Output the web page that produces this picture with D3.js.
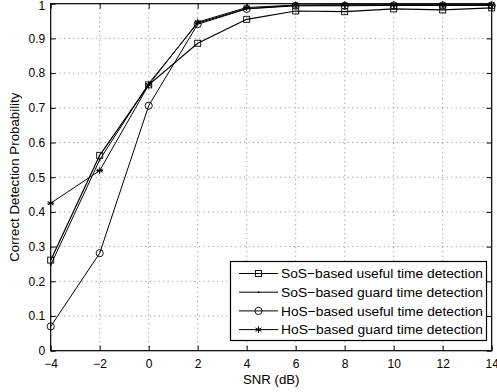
<!DOCTYPE html>
<html><head><meta charset="utf-8">
<script src="https://cdn.jsdelivr.net/npm/d3@7"></script>
<style>body{margin:0;background:#fff}svg{display:block}</style>
</head><body>
<svg id="c" width="497" height="392"></svg>
<script>
const snr = [-4,-2,0,2,4,6,8,10,12,14];
const sosUseful = [0.261,0.563,0.766,0.886,0.955,0.979,0.977,0.985,0.982,0.988];
const sosGuard  = [0.247,0.550,0.770,0.944,0.986,0.995,0.996,0.996,0.996,0.996];
const hosUseful = [0.070,0.281,0.706,0.941,0.985,0.994,0.994,0.995,0.995,0.995];
const hosGuard  = [0.425,0.519,0.766,0.947,0.989,0.996,0.997,0.997,0.997,0.997];
const xTicks = [-4,-2,0,2,4,6,8,10,12,14];
const yTicks = [0,0.1,0.2,0.3,0.4,0.5,0.6,0.7,0.8,0.9,1];
const legendLabels = ["SoS\u2212based useful time detection","SoS\u2212based guard time detection","HoS\u2212based useful time detection","HoS\u2212based guard time detection"];
const markers = ["square","dot","circle","star"];
const seriesData = [sosUseful,sosGuard,hosUseful,hosGuard];

const svg = d3.select("#c");
const L=50.7,R=491.7,T=3.7,B=350.7;
const x = d3.scaleLinear().domain([-4,14]).range([L,R]);
const y = d3.scaleLinear().domain([0,1]).range([B,T]);
const font = "Liberation Sans, Arial, Helvetica, sans-serif";

// grid
const g = svg.append("g");
g.selectAll(".gx").data(xTicks.slice(1,-1)).join("line")
 .attr("x1",d=>x(d)).attr("x2",d=>x(d)).attr("y1",T).attr("y2",B)
 .attr("stroke","#555").attr("stroke-width",0.7).attr("stroke-dasharray","1,3.5");
g.selectAll(".gy").data(yTicks.slice(1,-1)).join("line")
 .attr("y1",d=>y(d)).attr("y2",d=>y(d)).attr("x1",L).attr("x2",R)
 .attr("stroke","#555").attr("stroke-width",0.7).attr("stroke-dasharray","1,3.5");

// axes
const fmtY = d=> d===0?"0":(d===1?"1":d3.format(".1f")(d));
const fmtX = d=> d<0?"\u2212"+Math.abs(d):String(d);
const ax = svg.append("g").attr("transform",`translate(0,${B})`)
 .call(d3.axisBottom(x).tickValues(xTicks).tickSize(-5).tickPadding(8.5).tickFormat(fmtX));
const axT = svg.append("g").attr("transform",`translate(0,${T})`)
 .call(d3.axisTop(x).tickValues(xTicks).tickSize(-5).tickFormat(""));
const ay = svg.append("g").attr("transform",`translate(${L},0)`)
 .call(d3.axisLeft(y).tickValues(yTicks).tickSize(-5).tickPadding(5.5).tickFormat(fmtY));
const ayR = svg.append("g").attr("transform",`translate(${R},0)`)
 .call(d3.axisRight(y).tickValues(yTicks).tickSize(-5).tickFormat(""));
[ax,axT,ay,ayR].forEach(a=>{
  a.select(".domain").remove();
  a.selectAll("line").attr("stroke","#000").attr("stroke-width",1);
  a.selectAll("text").attr("font-family",font).attr("font-size",12).attr("fill","#000");
});
ay.selectAll(".tick").filter(d=>d===1).select("text").attr("dy","0.5em");
svg.append("rect").attr("x",L).attr("y",T).attr("width",R-L).attr("height",B-T)
 .attr("fill","none").attr("stroke","#000").attr("stroke-width",1.2);

// lines
const line = d3.line().x((d,i)=>x(snr[i])).y(d=>y(d));
seriesData.forEach((s,k)=>{
  svg.append("path").attr("d",line(s)).attr("fill","none").attr("stroke","#000").attr("stroke-width",k===0?1.2:1);
});

function drawMarker(sel,type,cx,cy){
  if(type==="square") sel.append("rect").attr("x",cx-3).attr("y",cy-3).attr("width",6).attr("height",6).attr("fill","none").attr("stroke","#000").attr("stroke-width",0.9);
  else if(type==="circle") sel.append("circle").attr("cx",cx).attr("cy",cy).attr("r",3.6).attr("fill","none").attr("stroke","#000").attr("stroke-width",0.9);
  else if(type==="dot") sel.append("circle").attr("cx",cx).attr("cy",cy).attr("r",1).attr("fill","#000");
  else if(type==="star"){
    const r=3.4, gg=sel.append("g").attr("stroke","#000").attr("stroke-width",1);
    [0,60,120].forEach(a=>{const t=a*Math.PI/180;
      gg.append("line").attr("x1",cx-r*Math.sin(t)).attr("y1",cy-r*Math.cos(t)).attr("x2",cx+r*Math.sin(t)).attr("y2",cy+r*Math.cos(t));});
    gg.append("line").attr("x1",cx-r).attr("x2",cx+r).attr("y1",cy).attr("y2",cy);
  }
}
seriesData.forEach((s,k)=>{
  const mg = svg.append("g");
  s.forEach((v,i)=>drawMarker(mg,markers[k],x(snr[i]),y(v)));
});

// legend
const lg = svg.append("g");
lg.append("rect").attr("x",230.5).attr("y",261.5).attr("width",256).attr("height",79)
 .attr("fill","#fff").attr("stroke","#000").attr("stroke-width",1.2);
legendLabels.forEach((t,k)=>{
  const ly = 273.5 + k*18.7;
  lg.append("line").attr("x1",239).attr("x2",278).attr("y1",ly).attr("y2",ly).attr("stroke","#000").attr("stroke-width",1);
  drawMarker(lg,markers[k],258.5,ly);
  lg.append("text").attr("x",281).attr("y",ly).attr("dy","0.36em").attr("font-family",font).attr("font-size",13.6)
    .attr("textLength",202).attr("lengthAdjust","spacingAndGlyphs").text(t);
});

// labels
svg.append("text").attr("x",(L+R)/2).attr("y",384).attr("text-anchor","middle")
 .attr("font-family",font).attr("font-size",13.2).text("SNR (dB)");
svg.append("text").attr("transform",`translate(19,${(T+B)/2}) rotate(-90)`).attr("text-anchor","middle")
 .attr("font-family",font).attr("font-size",13.3).text("Correct Detection Probability");
</script>
</body></html>
